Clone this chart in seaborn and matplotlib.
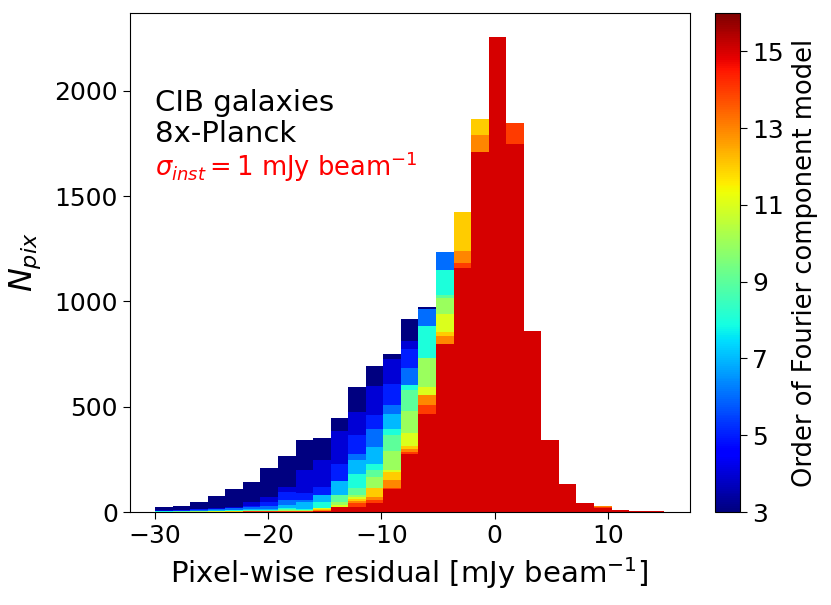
import matplotlib
matplotlib.use("Agg")
import matplotlib.pyplot as plt
import numpy as np
import pandas as pd
import seaborn as sns

# histogram bins: 29 bins from -30 to 15 mJy/beam
bin_edges = list(np.linspace(-30, 15, 30))
bin_centers = [0.5 * (a + b) for a, b in zip(bin_edges[:-1], bin_edges[1:])]

# order of the Fourier component model
orders = [3, 4, 5, 6, 7, 8, 9, 10, 11, 12, 13, 14, 15]

# pixel counts per bin, one row per bin, one column per order (3 ... 15)
counts_b00 = [26, 8, 6, 5, 4, 3, 2, 2, 1, 1, 1, 1, 1]
counts_b01 = [29, 10, 8, 6, 5, 4, 3, 2, 2, 1, 1, 1, 1]
counts_b02 = [46, 14, 12, 9, 6, 5, 4, 3, 2, 2, 1, 1, 1]
counts_b03 = [75, 20, 16, 14, 8, 6, 5, 4, 3, 2, 2, 2, 1]
counts_b04 = [111, 24, 20, 17, 10, 8, 6, 5, 4, 3, 2, 2, 2]
counts_b05 = [143, 49, 30, 24, 15, 10, 8, 6, 5, 4, 3, 3, 2]
counts_b06 = [211, 71, 47, 27, 15, 10, 8, 6, 5, 4, 3, 3, 2]
counts_b07 = [266, 119, 95, 56, 32, 18, 12, 8, 6, 5, 4, 3, 2]
counts_b08 = [344, 198, 92, 55, 47, 16, 10, 8, 6, 5, 4, 3, 2]
counts_b09 = [351, 249, 119, 79, 79, 48, 21, 21, 21, 14, 10, 6, 3]
counts_b10 = [448, 383, 227, 146, 146, 79, 79, 48, 32, 25, 24, 23, 22]
counts_b11 = [594, 475, 364, 274, 249, 179, 114, 82, 71, 64, 50, 45, 22]
counts_b12 = [694, 597, 459, 393, 309, 230, 198, 166, 116, 116, 71, 57, 42]
counts_b13 = [752, 725, 609, 510, 467, 396, 367, 289, 200, 192, 150, 115, 108]
counts_b14 = [914, 811, 776, 684, 602, 602, 581, 480, 375, 312, 301, 285, 277]
counts_b15 = [974, 966, 966, 966, 882, 882, 731, 731, 593, 557, 557, 510, 467]
counts_b16 = [1150, 1200, 1220, 1235, 1148, 1148, 1032, 1018, 942, 855, 834, 796, 796]
counts_b17 = [900, 1000, 1100, 1180, 1250, 1300, 1350, 1380, 1400, 1425, 1240, 1180, 1159]
counts_b18 = [700, 850, 1000, 1150, 1300, 1450, 1550, 1650, 1750, 1865, 1790, 1707, 1707]
counts_b19 = [600, 750, 900, 1050, 1200, 1400, 1600, 1800, 1950, 2050, 2150, 2200, 2256]
counts_b20 = [500, 650, 800, 950, 1100, 1250, 1400, 1500, 1600, 1650, 1700, 1848, 1748]
counts_b21 = [300, 380, 450, 520, 600, 680, 740, 790, 820, 840, 850, 855, 858]
counts_b22 = [120, 150, 180, 210, 240, 270, 300, 320, 330, 338, 340, 342, 344]
counts_b23 = [40, 55, 65, 80, 90, 100, 110, 118, 124, 127, 129, 130, 131]
counts_b24 = [15, 18, 22, 26, 30, 33, 36, 38, 40, 41, 42, 42, 43]
counts_b25 = [5, 7, 9, 11, 13, 15, 17, 19, 21, 24, 27, 22, 19]
counts_b26 = [2, 3, 4, 5, 6, 7, 8, 9, 10, 10, 11, 11, 11]
counts_b27 = [1, 1, 2, 2, 3, 3, 4, 4, 5, 5, 6, 6, 6]
counts_b28 = [0, 0, 1, 1, 1, 1, 2, 2, 2, 2, 3, 3, 3]

rows = [counts_b00, counts_b01, counts_b02, counts_b03, counts_b04, counts_b05,
        counts_b06, counts_b07, counts_b08, counts_b09, counts_b10, counts_b11,
        counts_b12, counts_b13, counts_b14, counts_b15, counts_b16, counts_b17,
        counts_b18, counts_b19, counts_b20, counts_b21, counts_b22, counts_b23,
        counts_b24, counts_b25, counts_b26, counts_b27, counts_b28]
order_cols = ["order_%d" % o for o in orders]
df = pd.DataFrame(rows, columns=order_cols)
df["residual"] = bin_centers

cmap = plt.get_cmap("jet")
norm = matplotlib.colors.Normalize(vmin=3, vmax=16)

fig = plt.figure(figsize=(8.31, 6.05), dpi=100)
ax = fig.add_axes([0.156, 0.1537, 0.674, 0.8248])
cax = fig.add_axes([0.860, 0.1537, 0.031, 0.8248])

# lowest order first, so the higher orders are layered on top
for order, col in zip(orders, order_cols):
    sns.histplot(data=df, x="residual", weights=col, bins=bin_edges,
                 color=cmap(norm(order)), alpha=1, linewidth=0,
                 element="bars", ax=ax)

ax.set_xticks([-30, -20, -10, 0, 10])
ax.set_yticks([0, 500, 1000, 1500, 2000])
ax.tick_params(labelsize=18, length=5)
ax.set_xlabel(r"Pixel-wise residual [mJy beam$^{-1}$]", fontsize=21, labelpad=5)
ax.set_ylabel(r"$N_{pix}$", fontsize=23, labelpad=8)

ax.text(0.046, 0.803, "CIB galaxies", transform=ax.transAxes, fontsize=21,
        va="baseline")
ax.text(0.046, 0.741, "8x-Planck", transform=ax.transAxes, fontsize=21,
        va="baseline")
ax.text(0.046, 0.674, r"$\sigma_{inst} = 1$ mJy beam$^{-1}$", transform=ax.transAxes,
        fontsize=18.5, color="red", va="baseline")

sm = matplotlib.cm.ScalarMappable(norm=norm, cmap=cmap)
cbar = fig.colorbar(sm, cax=cax, ticks=[3, 5, 7, 9, 11, 13, 15])
cbar.ax.tick_params(labelsize=18, length=5)
cbar.set_label("Order of Fourier component model", fontsize=18.5, labelpad=6)

plt.savefig("out.png", dpi=100)
